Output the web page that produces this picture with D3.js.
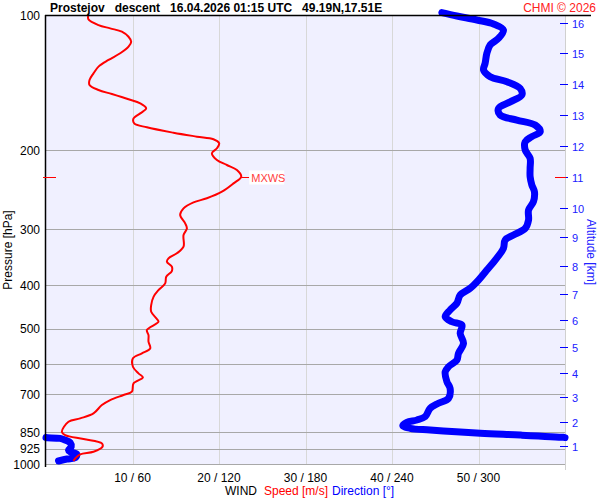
<!DOCTYPE html>
<html>
<head>
<meta charset="utf-8">
<script src="https://cdn.jsdelivr.net/npm/d3@7"></script>
<style>
  body { margin: 0; background: #ffffff; }
  text { font-family: "Liberation Sans", Arial, sans-serif; }
</style>
</head>
<body>
<div id="chart"></div>
<script>
// sounding data
// wind speed profile (hPa, m/s)
var speedPres = [100, 102.2, 105.3, 107.1, 108.9, 111.8, 114.7, 117.6, 121.7, 125.9, 130.3, 134.9, 139.6, 143.2,
  146.9, 150, 154.1, 157.3, 161.4, 165.6, 169.9, 174.3, 177.9, 182.9, 186.6, 189.1, 193.1, 198.1, 203.2, 210.3,
  215.8, 221.4, 229, 237.1, 247.5, 256, 261.4, 269.6, 278.9, 291.1, 298.7, 309, 328.1, 339.4, 348.3, 354.4,
  363.6, 371.7, 382.7, 396, 410, 424.3, 442.5, 458, 475.5, 482.2, 503.1, 516.2, 534.2, 552.6, 567, 581.7,
  607.3, 628.2, 641.2, 661.3, 690.2, 702, 720.4, 739.2, 771.4, 791.4, 805.3, 847.7, 862.1, 880, 899.7, 915.5,
  939.2, 951.8, 971.2, 984.7];
var speedVal = [4.9, 4.9, 6.07, 7.42, 8.77, 9.54, 9.85, 9.54, 8.58, 7.23, 6.07, 5.49, 5.03, 5.03,
  6.07, 7.62, 9.54, 10.89, 11.58, 10.89, 10.12, 10.2, 11.66, 14.74, 17.45, 19.36, 20.02, 19.76, 19.18, 19.76,
  20.91, 22.07, 22.57, 21.68, 20.34, 18.6, 17.05, 15.9, 15.51, 16.09, 16.29, 15.9, 15.9, 15.13, 14.16, 13.98,
  14.55, 14.55, 13.9, 13.78, 13.0, 12.43, 12.16, 12.16, 12.82, 13.0, 11.66, 11.85, 11.85, 12.05, 11.09, 10.05,
  10.05, 10.69, 11.2, 10.12, 9.93, 8.96, 7.42, 6.46, 5.49, 3.95, 2.6, 1.84, 2.22, 4.34, 6.46, 6.53,
  5.49, 3.95, 3.38, 3.18];

// wind direction profile (hPa, deg)
var dirPres = [98.8, 100.5, 102.6, 104.7, 108, 112.7, 116.6, 121.7, 128.1, 132.6, 137.2, 140.8, 145.7, 150.7,
  156.1, 161.4, 167, 171.4, 175.8, 182, 186.6, 191.5, 199.8, 208.5, 219.5, 229.1, 239.1, 247.5, 260.5, 271.9,
  286.2, 298.7, 309, 317, 330.8, 351.3, 369.8, 389.3, 406.2, 420.4, 438.6, 453.9, 469.8, 482.2, 490.4, 511.7,
  538.6, 567, 586.8, 607.3, 623.1, 655.7, 678.4, 714, 732.5, 751.5, 784.6, 798, 807.5, 821.7, 832.8, 840.1,
  854.4, 862.1, 872.3, 874.1, 876.9, 884.5, 896.8, 915.5, 931, 939.2, 951.8, 968.1, 974.8, 984.7];
var dirVal = [274.6, 285, 298.9, 310.4, 317.3, 313.9, 308.1, 305.8, 304.6, 303.5, 308.1, 319.7, 328.9, 330.1,
  322, 313.9, 315, 326.6, 339.3, 342.8, 337, 332.4, 332.4, 335.8, 335.8, 335.8, 337, 338.8, 338.1, 334.7,
  334.7, 332.4, 324.3, 318.5, 317.3, 311.6, 305.8, 300, 294.2, 287.3, 285, 280.3, 276.9, 281.5, 288.5, 287.3,
  289.6, 286.1, 285, 279.2, 276.9, 278.1, 280.3, 279.2, 272.2, 266.5, 263, 257.3, 250.3, 247.5, 252.6, 266.5,
  301.2, 328.9, 358.9, 1, 9.8, 13.3, 16.8, 17.5, 15.6, 16.8, 21.4, 20.3, 14.5, 8.7];

// axis labels
var presTicks = [100, 200, 300, 400, 500, 600, 700, 850, 925, 1000];
var windTicks = [10, 20, 30, 40, 50];
var altKm = [1, 2, 3, 4, 5, 6, 7, 8, 9, 10, 11, 12, 13, 14, 15, 16];
var altPres = [910.6, 805.3, 708.1, 626.1, 549.8, 477.9, 418.8, 362.2, 312.7, 269.6, 229.1, 195.7, 167.0, 142.6, 121.7, 104.0];
var mxwsPres = 229;
var mxwsSpeed = 22.57;

var svgWidth = 600;
var svgHeight = 500;
var margin = { top: 15, bottom: 36, left: 46, right: 35 };

var svg = d3.select("#chart").append("svg")
  .attr("width", svgWidth)
  .attr("height", svgHeight);

var yScale = d3.scaleLog().domain([100, 1000]).range([margin.top, svgHeight - margin.bottom]);
var xSpeed = d3.scaleLinear().domain([0, 60]).range([margin.left, svgWidth - margin.right]);
var xDir = d3.scaleLinear().domain([0, 360]).range([margin.left, svgWidth - margin.right]);

var plotL = margin.left, plotR = svgWidth - margin.right;
var plotT = margin.top, plotB = svgHeight - margin.bottom;

// plot background
svg.append("rect")
  .attr("x", plotL).attr("y", plotT)
  .attr("width", plotR - plotL).attr("height", plotB - plotT)
  .attr("fill", "#f0f0ff");

// vertical grid
svg.append("g").selectAll("line")
  .data(windTicks)
  .enter().append("line")
  .attr("x1", d => Math.round(xSpeed(d)) + 0.5).attr("x2", d => Math.round(xSpeed(d)) + 0.5)
  .attr("y1", plotT).attr("y2", plotB)
  .attr("stroke", "#d8d8d8").attr("stroke-width", 1);

// right border
svg.append("line")
  .attr("x1", plotR + 0.5).attr("x2", plotR + 0.5)
  .attr("y1", plotT).attr("y2", plotB + 6)
  .attr("stroke", "#d0d0d0");

// horizontal grid
svg.append("g").selectAll("line")
  .data(presTicks.slice(1))
  .enter().append("line")
  .attr("x1", plotL).attr("x2", plotR)
  .attr("y1", d => Math.round(yScale(d)) + 0.5).attr("y2", d => Math.round(yScale(d)) + 0.5)
  .attr("stroke", "#a8a8a8").attr("stroke-width", 1);

// pressure labels
svg.append("g").selectAll("text")
  .data(presTicks)
  .enter().append("text")
  .attr("x", 40)
  .attr("y", d => yScale(d) + 4.5)
  .attr("text-anchor", "end")
  .attr("font-size", 12)
  .attr("fill", "#000")
  .text(d => d);

// wind labels
svg.append("g").selectAll("text")
  .data(windTicks)
  .enter().append("text")
  .attr("x", d => xSpeed(d))
  .attr("y", 482)
  .attr("text-anchor", "middle")
  .attr("font-size", 12)
  .attr("fill", "#000")
  .text(d => d + " / " + d * 6);

// altitude ticks on the right
var altG = svg.append("g");
altKm.forEach(function(km, i) {
  var yy = Math.round(yScale(altPres[i])) + 0.5;
  altG.append("line")
    .attr("x1", plotR - 5).attr("x2", plotR + 3)
    .attr("y1", yy).attr("y2", yy)
    .attr("stroke", "#0000ff").attr("stroke-width", 1);
  altG.append("text")
    .attr("x", plotR + 7)
    .attr("y", yy + 4)
    .attr("font-size", 11)
    .attr("fill", "#2020ff")
    .text(km);
});

// wind direction line, split where it wraps through north
var segs = [];
var cur = [];
dirPres.forEach(function(p, i) {
  var d = dirVal[i];
  if (i > 0 && Math.abs(d - dirVal[i - 1]) > 180) {
    var p0 = dirPres[i - 1], d0 = dirVal[i - 1];
    var hi = d0 > d ? d0 : d;
    var lo = d0 > d ? d : d0;
    var t = (360 - hi) / (360 - hi + lo);
    var pc = p0 + (p - p0) * t;
    cur.push([pc, d0 > d ? 360 : 0]);
    segs.push(cur);
    cur = [[pc, d0 > d ? 0 : 360]];
  }
  cur.push([p, d]);
});
segs.push(cur);

var dirLine = d3.line()
  .x(d => xDir(d[1]))
  .y(d => yScale(d[0]))
  .curve(d3.curveCatmullRom);

svg.append("g").selectAll("path")
  .data(segs)
  .enter().append("path")
  .attr("d", dirLine)
  .attr("fill", "none")
  .attr("stroke", "#0000ff")
  .attr("stroke-width", 7)
  .attr("stroke-linejoin", "round")
  .attr("stroke-linecap", "round");

// wind speed line
var speedLine = d3.line()
  .x((d, i) => xSpeed(speedVal[i]))
  .y(d => yScale(d))
  .curve(d3.curveCatmullRom);

svg.append("path")
  .datum(speedPres)
  .attr("d", speedLine)
  .attr("fill", "none")
  .attr("stroke", "#ff0000")
  .attr("stroke-width", 2)
  .attr("stroke-linejoin", "round");

// left axis line and title rule
svg.append("line")
  .attr("x1", plotL - 0.5).attr("x2", plotL - 0.5)
  .attr("y1", plotT).attr("y2", plotB + 3)
  .attr("stroke", "#000").attr("stroke-width", 1.5);
svg.append("line")
  .attr("x1", plotL - 1).attr("x2", 591)
  .attr("y1", plotT + 0.5).attr("y2", plotT + 0.5)
  .attr("stroke", "#000").attr("stroke-width", 1.5);

// MXWS marks
var my = Math.round(yScale(mxwsPres)) + 0.5;
svg.append("line")
  .attr("x1", 43).attr("x2", 56).attr("y1", my).attr("y2", my)
  .attr("stroke", "#ff0000");
svg.append("line")
  .attr("x1", plotR - 10).attr("x2", plotR + 1).attr("y1", my).attr("y2", my)
  .attr("stroke", "#ff0000");
svg.append("line")
  .attr("x1", xSpeed(mxwsSpeed)).attr("x2", xSpeed(mxwsSpeed) + 8).attr("y1", my).attr("y2", my)
  .attr("stroke", "#ff0000");
svg.append("rect")
  .attr("x", xSpeed(mxwsSpeed) + 8).attr("y", my - 7)
  .attr("width", 35).attr("height", 14)
  .attr("fill", "#ffffff");
svg.append("text")
  .attr("x", xSpeed(mxwsSpeed) + 10)
  .attr("y", my + 4)
  .attr("font-size", 11)
  .attr("fill", "#ff4040")
  .text("MXWS");

// title
svg.append("text")
  .attr("x", 50).attr("y", 12)
  .attr("font-size", 12)
  .attr("font-weight", "bold")
  .attr("fill", "#000")
  .style("white-space", "pre")
  .text("Prostejov   descent   16.04.2026 01:15 UTC   49.19N,17.51E");

svg.append("text")
  .attr("x", 596).attr("y", 12)
  .attr("text-anchor", "end")
  .attr("font-size", 12)
  .attr("fill", "#ff2020")
  .text("CHMI \u00a9 2026");

// axis titles
svg.append("text")
  .attr("transform", "translate(12,250) rotate(-90)")
  .attr("text-anchor", "middle")
  .attr("font-size", 12)
  .attr("fill", "#000")
  .text("Pressure [hPa]");

svg.append("text")
  .attr("transform", "translate(587,252) rotate(90)")
  .attr("text-anchor", "middle")
  .attr("font-size", 12)
  .attr("fill", "#2020ff")
  .text("Altitude [km]");

// bottom legend
var leg = svg.append("text").attr("y", 495).attr("font-size", 12);
leg.append("tspan").attr("x", 225).attr("fill", "#000").text("WIND");
leg.append("tspan").attr("x", 264).attr("fill", "#ff0000").text("Speed [m/s]");
leg.append("tspan").attr("x", 332).attr("fill", "#0000ff").text("Direction [\u00b0]");
</script>
</body>
</html>
